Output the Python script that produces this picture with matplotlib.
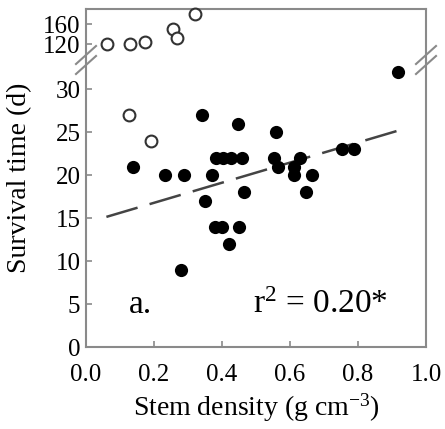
import matplotlib
matplotlib.use("Agg")
import matplotlib.pyplot as plt
from matplotlib.lines import Line2D

plt.rcParams['font.family'] = ['Liberation Serif', 'DejaVu Serif']
plt.rcParams['mathtext.fontset'] = 'custom'
plt.rcParams['mathtext.rm'] = 'Liberation Serif'
plt.rcParams['mathtext.it'] = 'Liberation Serif:italic'
plt.rcParams['mathtext.bf'] = 'Liberation Serif:bold'

# Filled (included) points
fx = [0.137, 0.231, 0.287, 0.342, 0.372, 0.351, 0.382, 0.404, 0.426, 0.459,
      0.446, 0.464, 0.379, 0.401, 0.451, 0.421, 0.279, 0.558, 0.552, 0.566,
      0.611, 0.611, 0.629, 0.666, 0.648, 0.754, 0.787, 0.919]
fy = [21, 20, 20, 27, 20, 17, 22, 22, 22, 22,
      26, 18, 14, 14, 14, 12, 9, 25, 22, 21,
      21, 20, 22, 20, 18, 23, 23, 32]
# Open (excluded) points, lower panel
ox_low = [0.127, 0.192]
oy_low = [27, 24]
# Open points, upper panel
ox_up = [0.061, 0.129, 0.174, 0.255, 0.267, 0.321]
oy_up = [121, 120, 125, 150, 133, 180]

# Regression line
slope, intercept = 11.7, 14.44
line_x = [0.06, 0.92]

xticks = [0.0, 0.2, 0.4, 0.6, 0.8, 1.0]
yticks_low = [0, 5, 10, 15, 20, 25, 30]
yticks_up = [120, 160]

W, H = 445, 429
fig = plt.figure(figsize=(W / 100, H / 100), dpi=100)

left, right = 86 / W, 426 / W
y_bottom_px, y_break_px, y_top_px = 347, 60, 9
ax_low = fig.add_axes([left, 1 - y_bottom_px / H, right - left, (y_bottom_px - y_break_px) / H])
ax_up = fig.add_axes([left, 1 - y_break_px / H, right - left, (y_break_px - y_top_px) / H])

spine_col = '#8a8a8a'
for ax in (ax_low, ax_up):
    ax.set_xlim(0, 1.0)
    for s in ax.spines.values():
        s.set_color(spine_col)
        s.set_linewidth(1.5)
    ax.tick_params(direction='in', length=4, color=spine_col, width=1.2,
                   labelsize=18, pad=4)

ax_low.set_ylim(0, 33.4)
ax_up.set_ylim(89, 190)
ax_low.spines['top'].set_visible(False)
ax_up.spines['bottom'].set_visible(False)
ax_up.set_xticks([])
ax_low.set_xticks(xticks)
ax_low.set_xticklabels([f"{t:.1f}" for t in xticks])
ax_low.set_yticks(yticks_low)
ax_up.set_yticks(yticks_up)
ax_low.tick_params(axis='x', pad=12)

ms = 9.5
ax_low.plot(fx, fy, 'o', color='black', markersize=ms, markeredgewidth=0, zorder=3)
ax_low.plot(ox_low, oy_low, 'o', markerfacecolor='white', markeredgecolor='#333333',
            markersize=8.5, markeredgewidth=1.5, zorder=3)
ax_up.plot(ox_up, oy_up, 'o', markerfacecolor='white', markeredgecolor='#333333',
           markersize=8.5, markeredgewidth=1.5, zorder=3, clip_on=False)

ly = [intercept + slope * x for x in line_x]
ax_low.plot(line_x, ly, color='#444444', lw=1.8, dashes=(13, 5), zorder=2)

ax_low.text(0.125, 4.0, 'a.', fontsize=24, ha='left', va='baseline')
ax_low.text(0.49, 4.0, r'r$^{\mathregular{2}}$ = 0.20*', fontsize=24, ha='left',
            va='baseline')

ax_low.set_xlabel(r'Stem density (g cm$^{\mathregular{-3}}$)', fontsize=20, labelpad=4)
fig.text(20 / W, 1 - 178 / H, 'Survival time (d)', rotation=90, fontsize=20,
         ha='center', va='center')

# break marks
def brk(xc_px):
    for dy in (-5, 5):
        x0, y0 = xc_px - 10, y_break_px + dy + 9
        x1, y1 = xc_px + 10, y_break_px + dy - 9
        fig.add_artist(Line2D([x0 / W, x1 / W], [1 - y0 / H, 1 - y1 / H],
                              color=spine_col, lw=1.5))
brk(86)
brk(426)

fig.savefig('out.png', dpi=100)
